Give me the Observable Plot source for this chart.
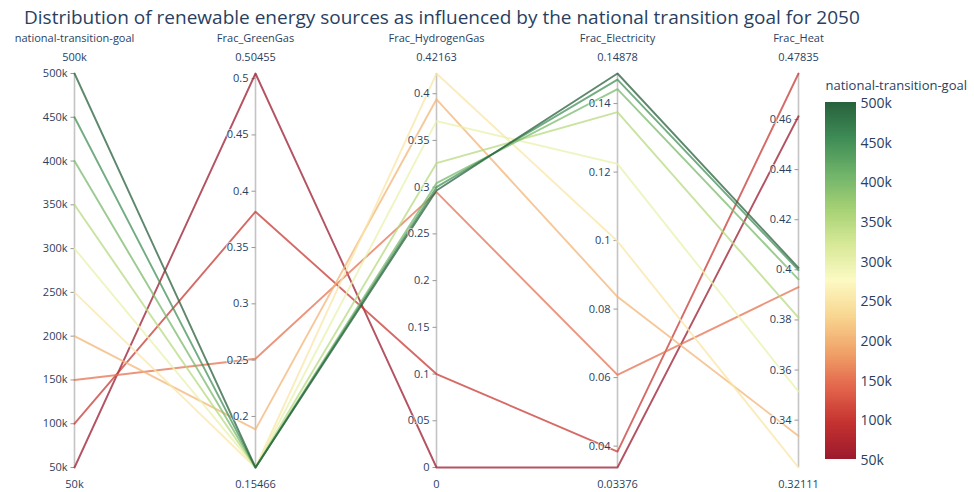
<!DOCTYPE html>
<html>
<head>
<meta charset="utf-8">
<script src="https://cdn.jsdelivr.net/npm/d3@7"></script>
<script src="https://cdn.jsdelivr.net/npm/@observablehq/plot@0.6"></script>
<style>
  html, body { margin: 0; padding: 0; background: #fff; }
  #wrap { position: relative; width: 974px; height: 492px; font-family: "Open Sans", sans-serif; }
  #wrap svg { position: absolute; left: 0; top: 0; }
  #title { position: absolute; left: 24px; top: 4px; font-size: 19px; color: #2a3f5f; white-space: nowrap; z-index: 5; }
</style>
</head>
<body>
<div id="wrap"><div id="title">Distribution of renewable energy sources as influenced by the national transition goal for 2050</div></div>
<script>
// ---- data ----
const dimensions = ["national-transition-goal", "Frac_GreenGas", "Frac_HydrogenGas", "Frac_Electricity", "Frac_Heat"];
const goals = [50000, 100000, 150000, 200000, 250000, 300000, 350000, 400000, 450000, 500000];
const fracGreenGas    = [0.50455, 0.3818, 0.2512, 0.1885, 0.15466, 0.15466, 0.15466, 0.15466, 0.15466, 0.15466];
const fracHydrogenGas = [0, 0.1, 0.2947, 0.394, 0.42163, 0.3707, 0.3257, 0.3043, 0.3000, 0.2965];
const fracElectricity = [0.03376, 0.0384, 0.0608, 0.0836, 0.0998, 0.1224, 0.1375, 0.1442, 0.1470, 0.14878];
const fracHeat        = [0.4613, 0.47835, 0.3931, 0.3337, 0.32111, 0.3514, 0.3809, 0.3962, 0.3999, 0.4008];
// axis extents (range labels)
const axisMin = [50000, 0.15466, 0, 0.03376, 0.32111];
const axisMax = [500000, 0.50455, 0.42163, 0.14878, 0.47835];
const axisMinLabel = ["50k", "0.15466", "0", "0.03376", "0.32111"];
const axisMaxLabel = ["500k", "0.50455", "0.42163", "0.14878", "0.47835"];
// tick values per axis
const goalTicks = [50000, 100000, 150000, 200000, 250000, 300000, 350000, 400000, 450000, 500000];
const greenGasTicks = [0.2, 0.25, 0.3, 0.35, 0.4, 0.45, 0.5];
const hydrogenGasTicks = [0, 0.05, 0.1, 0.15, 0.2, 0.25, 0.3, 0.35, 0.4];
const electricityTicks = [0.04, 0.06, 0.08, 0.1, 0.12, 0.14];
const heatTicks = [0.34, 0.36, 0.38, 0.4, 0.42, 0.44, 0.46];
// colour scale (red-yellow-green, as seen in the colour bar)
const paletteStops = ["rgb(155,25,45)", "rgb(196,50,48)", "rgb(226,100,75)", "rgb(240,163,104)", "rgb(248,214,145)",
  "rgb(252,250,196)", "rgb(216,233,152)", "rgb(166,209,116)", "rgb(110,178,105)", "rgb(62,140,86)", "rgb(40,96,60)"];

// ---- build tables ----
const series = [goals, fracGreenGas, fracHydrogenGas, fracElectricity, fracHeat];
const tickSets = [goalTicks, greenGasTicks, hydrogenGasTicks, electricityTicks, heatTicks];
const norm = (i, v) => (v - axisMin[i]) / (axisMax[i] - axisMin[i]);
const kfmt = v => (v / 1000) + "k";
const fmt = (i, v) => i === 0 ? kfmt(v) : String(+v.toFixed(4));

const lines = [];
goals.forEach((g, r) => {
  dimensions.forEach((dim, i) => lines.push({goal: g, dim, y: norm(i, series[i][r])}));
});
const ticks = [];
tickSets.forEach((ts, i) => ts.forEach(t => ticks.push({dim: dimensions[i], y: norm(i, t), label: fmt(i, t)})));
const ends = dimensions.map((dim, i) => ({dim, maxL: axisMaxLabel[i], minL: axisMinLabel[i]}));

const cDomain = paletteStops.map((_, k) => 50000 + k * 45000);
const colorScale = {type: "linear", domain: cDomain, range: paletteStops, interpolate: "rgb"};

const textColor = "#2a3f5f";
const tickSymbol = {draw(ctx) { ctx.moveTo(-4, 0); ctx.lineTo(0, 0); }};

const main = Plot.plot({
  width: 974, height: 492,
  marginTop: 0, marginBottom: 0, marginLeft: 0, marginRight: 0,
  style: {fontFamily: "Open Sans, sans-serif", background: "transparent"},
  x: {type: "point", domain: dimensions, range: [72, 799], padding: 0, axis: null},
  y: {domain: [0, 1], range: [467, 73], axis: null},
  color: colorScale,
  marks: [
    Plot.ruleX(dimensions, {x: d => d, y1: 0, y2: 1, stroke: "#c4c4c4", strokeWidth: 1.6}),
    Plot.dot(ticks, {x: "dim", y: "y", symbol: tickSymbol, stroke: "#999", strokeWidth: 1, r: 4}),
    Plot.line(lines, {x: "dim", y: "y", z: "goal", stroke: "goal", strokeWidth: 1.9, strokeOpacity: 0.75, curve: "linear"}),
    Plot.text(ticks, {x: "dim", y: "y", text: "label", textAnchor: "end", dx: -7, fontSize: 11, fill: textColor, stroke: "white", strokeWidth: 2, strokeOpacity: 0.6, paintOrder: "stroke"}),
    Plot.text(ends, {x: "dim", y: () => 1, text: "maxL", dy: -16, fontSize: 11, fill: textColor}),
    Plot.text(ends, {x: "dim", y: () => 0, text: "minL", dy: 17, fontSize: 11, fill: textColor}),
    Plot.text(ends, {x: "dim", y: () => 1, text: "dim", dy: -35, fontSize: 11, fill: textColor})
  ]
});

// colorbar
const step = 2500;
const ramp = d3.range(50000, 500000, step);
const bar = Plot.plot({
  width: 974, height: 492,
  marginTop: 0, marginBottom: 0, marginLeft: 0, marginRight: 0,
  style: {fontFamily: "Open Sans, sans-serif", background: "transparent"},
  x: {domain: [0, 1], range: [825, 856], axis: null},
  y: {domain: [50000, 500000], range: [459, 102], axis: null},
  color: colorScale,
  marks: [
    Plot.rect(ramp, {x1: 0, x2: 1, y1: d => d, y2: d => d + step, fill: d => d + step / 2, inset: 0, shapeRendering: "crispEdges"}),
    Plot.text(goalTicks, {x: () => 1, y: d => d, text: kfmt, textAnchor: "start", dx: 4, dy: 1, fontSize: 14, fill: textColor}),
    Plot.text(["national-transition-goal"], {x: () => 0, y: () => 500000, text: d => d, textAnchor: "start", dy: -17, fontSize: 13, fill: textColor})
  ]
});

const wrap = document.getElementById("wrap");
wrap.appendChild(main);
wrap.appendChild(bar);
</script>
</body>
</html>
